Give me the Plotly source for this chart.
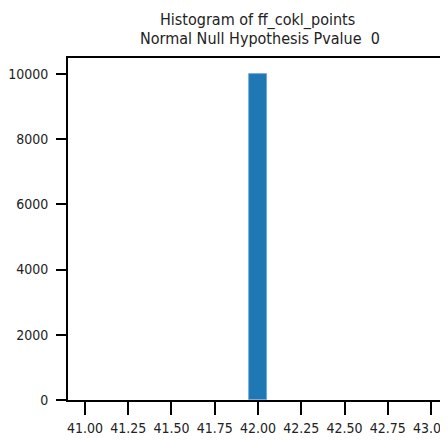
import plotly.graph_objects as go

# Data
bin_centers = [42.0]
counts = [10000]
bin_width = 0.104
x_tick_vals = [41.00, 41.25, 41.50, 41.75, 42.00, 42.25, 42.50, 42.75, 43.00]
x_tick_text = ["41.00", "41.25", "41.50", "41.75", "42.00", "42.25", "42.50", "42.75", "43.00"]
y_tick_vals = [0, 2000, 4000, 6000, 8000, 10000]
y_tick_text = ["0", "2000", "4000", "6000", "8000", "10000"]
title_lines = ["Histogram of ff_cokl_points", "Normal Null Hypothesis Pvalue&nbsp; 0"]

fig = go.Figure()
fig.add_trace(go.Bar(
    x=bin_centers, y=counts, width=[bin_width] * len(bin_centers),
    marker=dict(color="#1f77b4", line=dict(color="#6fa8dc", width=0.8)),
    showlegend=False,
))

FAMILY = "DejaVu Sans Condensed, DejaVu Sans"
font = dict(family=FAMILY, size=14, color="#222222")

# page body has an 8px margin; figure is sized so the plot lands where the reference has it
OFF = 8
W, H = 448 - OFF, 443 - OFF
top_px, bottom_px = 58 - OFF, 400 - OFF
for line, xc, ypix in zip(title_lines, [257, 260], [20 - OFF, 39 - OFF]):
    fig.add_annotation(
        text=line, xref="paper", yref="paper",
        x=(xc - 68) / (448 - 68), y=(bottom_px - ypix) / (bottom_px - top_px),
        xanchor="center", yanchor="middle", showarrow=False,
        font=dict(family=FAMILY, size=16, color="#222222"),
    )

fig.update_layout(
    width=W, height=H,
    margin=dict(l=68 - OFF, r=0, t=top_px, b=H - bottom_px, autoexpand=False),
    paper_bgcolor="white", plot_bgcolor="white",
    bargap=0,
    xaxis=dict(
        range=[40.902, 43.098],
        tickvals=x_tick_vals, ticktext=x_tick_text,
        ticks="outside", ticklen=13, tickwidth=2, tickcolor="black",
        showline=True, linewidth=2, linecolor="black", mirror=True,
        showgrid=False, zeroline=False, tickfont=font,
        ticklabelstandoff=1, automargin=False, ticklabeloverflow="allow",
    ),
    yaxis=dict(
        range=[0, 10490],
        tickvals=y_tick_vals, ticktext=y_tick_text,
        ticks="outside", ticklen=10, tickwidth=2, tickcolor="black",
        showline=True, linewidth=2, linecolor="black",
        showgrid=False, zeroline=False, tickfont=font,
        ticklabelstandoff=5, automargin=False,
    ),
)

fig.write_html("out.html")
